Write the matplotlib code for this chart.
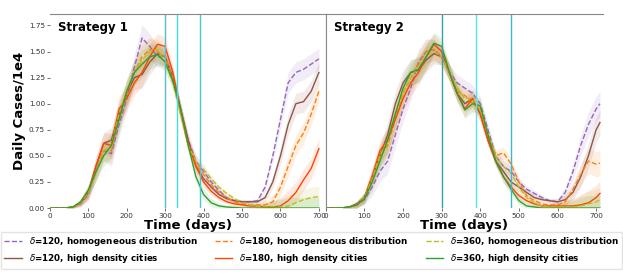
import matplotlib.pyplot as plt

# day grid (every 20 days)
days = list(range(0, 701, 20))
days_r = days + [710]

# ---- Strategy 1 (values in 1e4 daily cases) ----
s1_d120_homo = [0, 0, 0, 0.01, 0.04, 0.13, 0.35, 0.55, 0.52, 0.8, 1.05, 1.35, 1.63, 1.55, 1.45, 1.45,
                1.25, 0.95, 0.65, 0.45, 0.35, 0.25, 0.17, 0.1, 0.07, 0.06, 0.06, 0.07, 0.2, 0.5,
                0.85, 1.2, 1.3, 1.33, 1.38, 1.43]
s1_d120_city = [0, 0, 0, 0.01, 0.05, 0.15, 0.4, 0.62, 0.65, 0.9, 1.1, 1.25, 1.28, 1.4, 1.48, 1.45,
                1.25, 0.95, 0.65, 0.4, 0.28, 0.2, 0.13, 0.09, 0.07, 0.06, 0.06, 0.06, 0.1, 0.25,
                0.5, 0.8, 1.0, 1.02, 1.12, 1.3]
s1_d180_homo = [0, 0, 0, 0.01, 0.05, 0.15, 0.35, 0.55, 0.55, 0.85, 1.1, 1.3, 1.45, 1.52, 1.5, 1.45,
                1.25, 0.9, 0.6, 0.42, 0.32, 0.22, 0.15, 0.1, 0.06, 0.04, 0.03, 0.03, 0.03, 0.06,
                0.2, 0.4, 0.6, 0.72, 0.9, 1.12]
s1_d180_city = [0, 0, 0, 0.01, 0.05, 0.15, 0.4, 0.62, 0.6, 0.95, 1.05, 1.2, 1.3, 1.45, 1.57, 1.55,
                1.3, 0.95, 0.62, 0.4, 0.25, 0.16, 0.1, 0.06, 0.04, 0.03, 0.02, 0.02, 0.01, 0.01,
                0.02, 0.07, 0.15, 0.27, 0.38, 0.57]
s1_d360_homo = [0, 0, 0, 0.01, 0.05, 0.15, 0.35, 0.55, 0.6, 0.9, 1.12, 1.3, 1.42, 1.5, 1.52, 1.4,
                1.2, 0.9, 0.6, 0.45, 0.37, 0.28, 0.2, 0.14, 0.09, 0.05, 0.03, 0.02, 0.01, 0.01,
                0.01, 0.02, 0.05, 0.08, 0.1, 0.11]
s1_d360_city = [0, 0, 0, 0.01, 0.06, 0.17, 0.35, 0.5, 0.6, 0.85, 1.12, 1.3, 1.38, 1.45, 1.47, 1.4,
                1.22, 0.95, 0.6, 0.3, 0.13, 0.05, 0.02, 0.01, 0.005, 0, 0, 0, 0, 0,
                0, 0, 0, 0, 0, 0]
s1_spread = [0, 0, 0, 0.01, 0.03, 0.06, 0.09, 0.1, 0.12, 0.12, 0.12, 0.12, 0.13, 0.12, 0.1, 0.09,
             0.07, 0.06, 0.06, 0.06, 0.05, 0.04, 0.03, 0.02, 0.02, 0.02, 0.02, 0.02, 0.04, 0.06,
             0.08, 0.1, 0.1, 0.1, 0.1, 0.1]

# ---- Strategy 2 ----
s2_d120_homo = [0, 0, 0, 0.01, 0.03, 0.08, 0.2, 0.35, 0.45, 0.7, 0.95, 1.15, 1.4, 1.5, 1.52, 1.45,
                1.3, 1.2, 1.15, 1.1, 1.0, 0.75, 0.5, 0.4, 0.35, 0.25, 0.18, 0.14, 0.1, 0.07,
                0.06, 0.15, 0.35, 0.6, 0.8, 0.95, 1.0]
s2_d120_city = [0, 0, 0, 0.01, 0.04, 0.1, 0.3, 0.5, 0.7, 1.0, 1.2, 1.3, 1.32, 1.42, 1.48, 1.45,
                1.3, 1.1, 1.0, 1.05, 0.9, 0.65, 0.45, 0.35, 0.25, 0.2, 0.15, 0.1, 0.08, 0.07,
                0.06, 0.08, 0.15, 0.3, 0.5, 0.75, 0.82]
s2_d180_homo = [0, 0, 0, 0.01, 0.03, 0.1, 0.3, 0.5, 0.6, 0.85, 1.1, 1.25, 1.38, 1.5, 1.52, 1.45,
                1.3, 1.12, 1.08, 1.0, 0.95, 0.7, 0.5, 0.53, 0.42, 0.25, 0.12, 0.07, 0.04, 0.03,
                0.03, 0.06, 0.18, 0.32, 0.45, 0.42, 0.43]
s2_d180_city = [0, 0, 0, 0.01, 0.03, 0.1, 0.3, 0.55, 0.65, 0.85, 1.05, 1.2, 1.3, 1.45, 1.57, 1.5,
                1.3, 1.1, 0.95, 1.05, 0.9, 0.65, 0.45, 0.3, 0.2, 0.12, 0.07, 0.04, 0.02, 0.02,
                0.02, 0.02, 0.02, 0.03, 0.05, 0.1, 0.14]
s2_d360_homo = [0, 0, 0, 0.01, 0.03, 0.1, 0.28, 0.5, 0.65, 0.9, 1.1, 1.25, 1.35, 1.45, 1.5, 1.45,
                1.3, 1.15, 1.05, 1.05, 0.95, 0.7, 0.5, 0.4, 0.33, 0.2, 0.1, 0.05, 0.02, 0.01,
                0.01, 0.01, 0.01, 0.02, 0.04, 0.06, 0.08]
s2_d360_city = [0, 0, 0, 0.01, 0.03, 0.09, 0.25, 0.45, 0.65, 0.9, 1.15, 1.3, 1.33, 1.45, 1.58, 1.55,
                1.3, 1.1, 0.94, 1.0, 0.98, 0.7, 0.45, 0.3, 0.18, 0.07, 0.02, 0.01, 0, 0,
                0, 0, 0, 0, 0, 0, 0]
s2_spread = [0, 0, 0, 0.01, 0.03, 0.05, 0.08, 0.1, 0.12, 0.12, 0.12, 0.12, 0.12, 0.12, 0.1, 0.08,
             0.08, 0.08, 0.08, 0.08, 0.07, 0.06, 0.05, 0.06, 0.05, 0.04, 0.03, 0.03, 0.02, 0.02,
             0.03, 0.05, 0.07, 0.1, 0.12, 0.12, 0.12]

labels = [r"$\delta$=120, homogeneous distribution", r"$\delta$=120, high density cities",
          r"$\delta$=180, homogeneous distribution", r"$\delta$=180, high density cities",
          r"$\delta$=360, homogeneous distribution", r"$\delta$=360, high density cities"]
colors = ["#9467bd", "#8c564b", "#ff7f0e", "#ff4500", "#bcbd22", "#2ca02c"]
styles = ["--", "-", "--", "-", "--", "-"]

s1_lines = [s1_d120_homo, s1_d120_city, s1_d180_homo, s1_d180_city, s1_d360_homo, s1_d360_city]
s2_lines = [s2_d120_homo, s2_d120_city, s2_d180_homo, s2_d180_city, s2_d360_homo, s2_d360_city]

s1_vlines = [(300, "#4fc0cc"), (330, "#3fe0e8"), (390, "#4fc3d0")]
s2_vlines = [(300, "#3a9ea6"), (390, "#50e8ec"), (480, "#45b4d4")]

fig = plt.figure(figsize=(6.23, 2.8), dpi=100)
ax1 = fig.add_axes([0.080, 0.257, 0.443, 0.693])
ax2 = fig.add_axes([0.523, 0.257, 0.445, 0.693])

panels = [(ax1, days, s1_lines, s1_spread, s1_vlines, "Strategy 1"),
          (ax2, days_r, s2_lines, s2_spread, s2_vlines, "Strategy 2")]

for ax, t, lines, spread, vlines, title in panels:
    for vals, lab, c, ls in zip(lines, labels, colors, styles):
        lo = [max(v - s, 0) for v, s in zip(vals, spread)]
        hi = [v + s for v, s in zip(vals, spread)]
        ax.fill_between(t, lo, hi, color=c, alpha=0.12, linewidth=0)
        ax.plot(t, vals, color=c, linestyle=ls, linewidth=1.0, label=lab)
    for x, c in vlines:
        ax.axvline(x, color=c, linewidth=1.0)
    ax.set_xlim(0, 718)
    ax.set_ylim(0, 1.86)
    ax.set_xticks(range(0, 701, 100))
    ax.tick_params(labelsize=5.2, length=2, width=0.5, pad=1.5, colors="#333333")
    ax.set_xlabel("Time (days)", fontsize=9.5, fontweight="bold", labelpad=0)
    ax.text(0.03, 0.965, title, transform=ax.transAxes, fontsize=8.5,
            fontweight="bold", va="top")
    for side in ["top", "bottom", "left", "right"]:
        ax.spines[side].set_color("#888888")
        ax.spines[side].set_linewidth(0.8)
    ax.spines["bottom"].set_visible(False)

ax1.spines["left"].set_visible(False)
ax2.spines["right"].set_visible(False)
ax1.set_yticks([0, 0.25, 0.5, 0.75, 1.0, 1.25, 1.5, 1.75])
ax1.set_ylabel("Daily Cases/1e4", fontsize=9.5, fontweight="bold", labelpad=2)
ax2.set_yticks([])

handles, labs = ax1.get_legend_handles_labels()
fig.legend(handles, labs, loc="lower center", bbox_to_anchor=(0.5, 0.025), ncol=3,
           prop={"size": 6.3, "weight": "bold"}, frameon=True, edgecolor="#dddddd",
           handlelength=2.0, handletextpad=0.8, columnspacing=2.0, borderpad=0.4,
           labelspacing=0.45)

fig.savefig("out.png", dpi=100)
